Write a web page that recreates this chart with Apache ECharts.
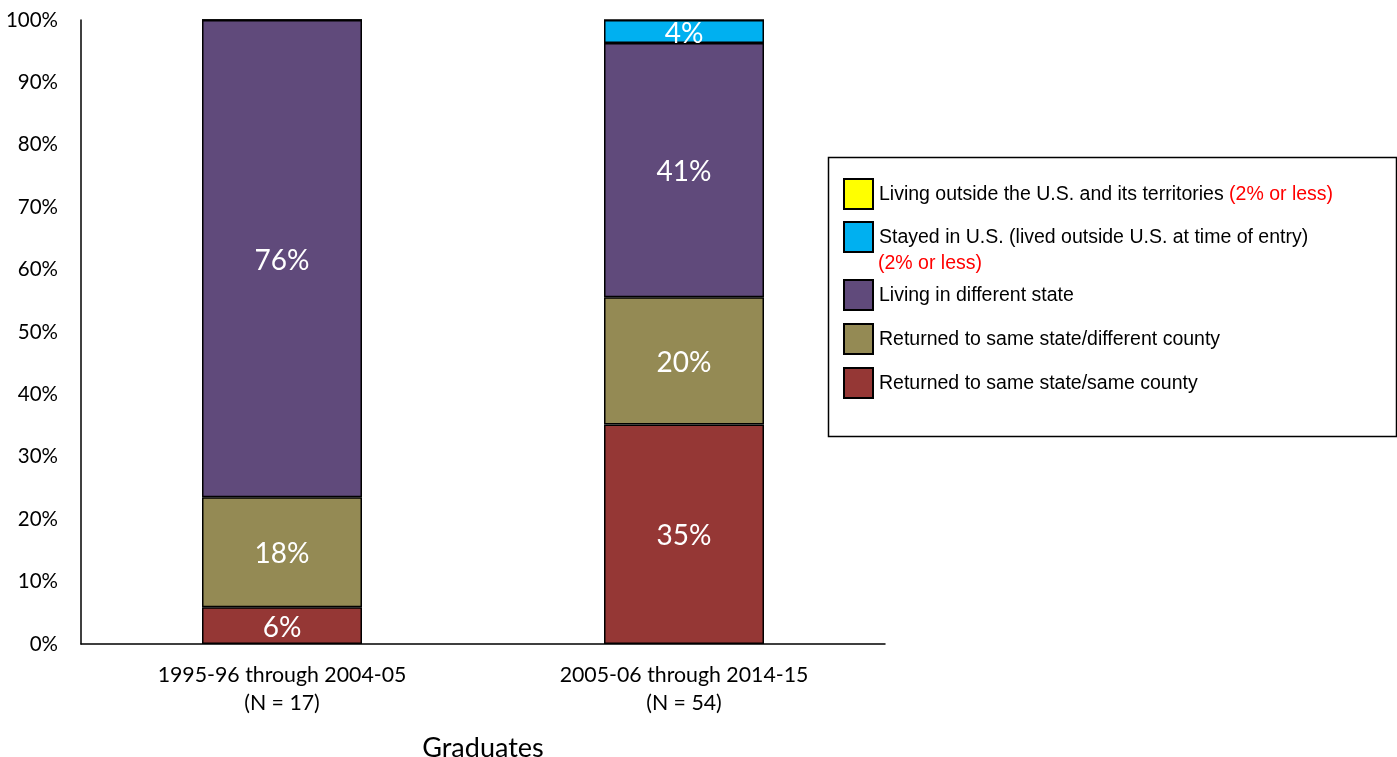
<!DOCTYPE html>
<html><head><meta charset="utf-8">
<script src="https://cdn.jsdelivr.net/npm/echarts@6/dist/echarts.min.js"></script>
<style>html,body{margin:0;padding:0;background:#fff}#c{width:1397px;height:757px}</style>
</head><body><div id="c"></div>
<script>
const categories = ['1995-96 through 2004-05\n(N = 17)', '2005-06 through 2014-15\n(N = 54)'];
const xAxisTitle = 'Graduates';
const yTicks = [0, 10, 20, 30, 40, 50, 60, 70, 80, 90, 100];
const seriesNames = [
  'Returned to same state/same county',
  'Returned to same state/different county',
  'Living in different state',
  'Stayed in U.S. (lived outside U.S. at time of entry)',
  'Living outside the U.S. and its territories'
];
const sameCounty = [5.88, 35.19];
const diffCounty = [17.65, 20.37];
const diffState = [76.47, 40.74];
const stayedUS = [0, 3.70];
const outsideUS = [0, 0];
const colors = ['#953735', '#948A54', '#604A7B', '#00B0F0', '#FFFF00'];
const values = [sameCounty, diffCounty, diffState, stayedUS, outsideUS];
const note = '(2% or less)';

const chart = echarts.init(document.getElementById('c'));
const lblFont = 'Lato, "Open Sans", sans-serif';
const legFont = '"Liberation Sans", Arial, sans-serif';
const series = seriesNames.map((n, i) => ({
  name: n, type: 'bar', stack: 's', barWidth: 160, data: values[i],
  itemStyle: { color: colors[i], borderColor: '#000', borderWidth: 1.5 },
  label: { show: true, position: 'inside', offset: [0, 2], color: '#fff', fontSize: 28, fontFamily: lblFont,
    formatter: p => p.value > 0 ? Math.round(p.value) + '%' : '' }
}));
const legendTops = [178, 221, 279, 323, 367];
const legendOrder = [4, 3, 2, 1, 0];
const legends = legendOrder.map((si, k) => ({
  data: [seriesNames[si]], left: 843, top: legendTops[k], orient: 'vertical',
  itemWidth: 29, itemHeight: 30, itemGap: 0, padding: 0, selectedMode: false,
  icon: 'rect',
  itemStyle: { borderColor: '#000', borderWidth: 2 },
  textStyle: { fontSize: 19.5, color: '#000', fontFamily: legFont, padding: [2, 0, 0, 1],
    rich: { r: { color: '#FF0000', fontSize: 19.5, fontFamily: legFont } } },
  formatter: si === 4 ? (nm => nm + ' {r|' + note + '}') : undefined
}));
chart.setOption({
  animation: false,
  grid: { left: 81, right: 512, top: 20, bottom: 113, outerBoundsMode: 'none', containLabel: false },
  legend: legends,
  xAxis: {
    type: 'category', data: categories, name: xAxisTitle, nameLocation: 'middle', nameGap: 91,
    nameTextStyle: { fontSize: 27, color: '#000', fontFamily: lblFont },
    axisLine: { lineStyle: { color: '#000', width: 1.5 } }, axisTick: { show: false },
    axisLabel: { color: '#000', fontSize: 21.3, fontFamily: lblFont, lineHeight: 28, margin: 17 }
  },
  yAxis: {
    type: 'value', min: 0, max: 100, interval: 10,
    axisLine: { show: true, lineStyle: { color: '#000', width: 1.5 } }, axisTick: { show: false },
    splitLine: { show: false },
    axisLabel: { color: '#000', fontSize: 20.5, fontFamily: lblFont, margin: 23, formatter: v => yTicks.includes(v) ? v + '%' : '' }
  },
  series: series,
  graphic: [
    { type: 'rect', shape: { x: 828.5, y: 157.5, width: 568, height: 279 }, style: { fill: 'none', stroke: '#000', lineWidth: 1.5 }, z: 0 },
    { type: 'text', left: 878, top: 254, style: { text: note, fill: '#FF0000', fontSize: 19.5, fontFamily: legFont } }
  ]
});
</script></body></html>
